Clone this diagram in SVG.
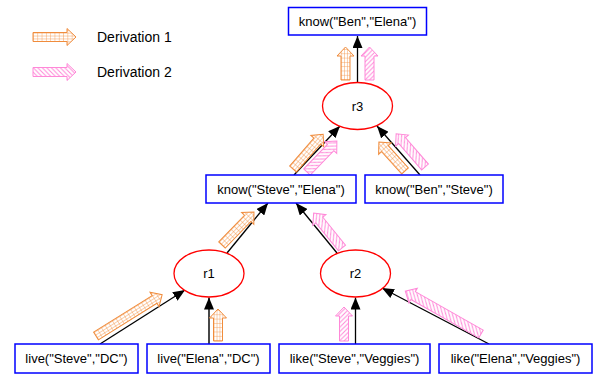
<svg xmlns="http://www.w3.org/2000/svg" width="600" height="376" viewBox="0 0 600 376">
<style>
.box{fill:#fff;stroke:#0000ff;stroke-width:1.5}
.rule{fill:#fff;stroke:#ff0000;stroke-width:1.3}
.t{font-family:"Liberation Sans",Arial,sans-serif;font-size:13px;fill:#000;text-anchor:middle;dominant-baseline:central}
.lg{font-family:"Liberation Sans",Arial,sans-serif;font-size:14px;fill:#000}
.edge{stroke:#000;stroke-width:1.3;fill:none;marker-end:url(#ah)}
.d1{fill:url(#grid);stroke:#f08c3c;stroke-width:1}
.d2{fill:url(#hatch);stroke:#ff88d8;stroke-width:1}
</style>
<defs>
<marker id="ah" viewBox="0 0 12 10" refX="12" refY="5" markerWidth="12" markerHeight="10" markerUnits="userSpaceOnUse" orient="auto">
<path d="M0,0 L12,5 L0,10 Z" fill="#000"/>
</marker>
<pattern id="grid" patternUnits="userSpaceOnUse" width="4.3" height="2.9" x="0" y="-4.35">
<rect width="4.3" height="2.9" fill="#fff"/>
<path d="M0,0 H4.3 M0,0 V2.9" stroke="#f08c3c" stroke-width="0.8" fill="none"/>
</pattern>
<pattern id="hatch" patternUnits="userSpaceOnUse" width="4.5" height="4.5">
<rect width="4.5" height="4.5" fill="#fff"/>
<path d="M-1,-1 L5.5,5.5 M3.5,-1 L5.5,1 M-1,3.5 L1,5.5" stroke="#ff88d8" stroke-width="1" fill="none"/>
</pattern>
</defs>
<rect width="600" height="376" fill="#fff"/>

<g id="legend">
<path class="d1" transform="translate(33,37)" d="M0,-4.5 H34 V-8.5 L43,0 L34,8.5 V4.5 H0 Z"/>
<text class="lg" x="97" y="41.7">Derivation 1</text>
<path class="d2" transform="translate(33,72)" d="M0,-4.5 H34 V-8.5 L43,0 L34,8.5 V4.5 H0 Z"/>
<text class="lg" x="97" y="76.7">Derivation 2</text>
</g>

<g id="connectors">
<line class="edge" x1="357.5" y1="82.5" x2="357.5" y2="36"/>
<line class="edge" x1="294" y1="175" x2="340" y2="126"/>
<line class="edge" x1="420" y1="175" x2="377" y2="126"/>
<line class="edge" x1="227" y1="253" x2="268" y2="203"/>
<line class="edge" x1="337" y1="253" x2="296" y2="203"/>
<line class="edge" x1="100" y1="344" x2="185" y2="290"/>
<line class="edge" x1="209" y1="344" x2="209" y2="297.5" style="stroke:#333;stroke-width:1.8"/>
<line class="edge" x1="355.5" y1="344" x2="355.5" y2="297.5"/>
<line class="edge" x1="489" y1="344" x2="382" y2="288"/>
</g>

<g id="derivation1">
<path class="d1" transform="translate(345.5,80) rotate(-90)" d="M0,-4.5 H24 V-8.5 L33,0 L24,8.5 V4.5 H0 Z"/>
<path class="d1" transform="translate(293,169) rotate(-49)" d="M0,-4.5 H37 V-8.5 L46,0 L37,8.5 V4.5 H0 Z"/>
<path class="d1" transform="translate(405,171) rotate(-132)" d="M0,-4.5 H30 V-8.5 L39,0 L30,8.5 V4.5 H0 Z"/>
<path class="d1" transform="translate(222,245) rotate(-46)" d="M0,-4.5 H37 V-8.5 L46,0 L37,8.5 V4.5 H0 Z"/>
<path class="d1" transform="translate(96,336) rotate(-32)" d="M0,-4.5 H69 V-8.5 L78,0 L69,8.5 V4.5 H0 Z"/>
<path class="d1" transform="translate(218,341) rotate(-90)" d="M0,-4.5 H23 V-8.5 L32,0 L23,8.5 V4.5 H0 Z"/>
</g>

<g id="derivation2">
<path class="d2" transform="translate(369.5,80) rotate(-90)" d="M0,-4.5 H24 V-8.5 L33,0 L24,8.5 V4.5 H0 Z"/>
<path class="d2" transform="translate(307,172) rotate(-46)" d="M0,-4.5 H34 V-8.5 L43,0 L34,8.5 V4.5 H0 Z"/>
<path class="d2" transform="translate(425,167) rotate(-131)" d="M0,-4.5 H35 V-8.5 L44,0 L35,8.5 V4.5 H0 Z"/>
<path class="d2" transform="translate(342,248) rotate(-129)" d="M0,-4.5 H36 V-8.5 L45,0 L36,8.5 V4.5 H0 Z"/>
<path class="d2" transform="translate(344,341) rotate(-90)" d="M0,-4.5 H25 V-8.5 L34,0 L25,8.5 V4.5 H0 Z"/>
<path class="d2" transform="translate(481,334) rotate(-150.5)" d="M0,-4.5 H78 V-8.5 L87,0 L78,8.5 V4.5 H0 Z"/>
</g>

<g id="know_ben_elena">
<rect class="box" x="288.5" y="7.5" width="138" height="27.5"/>
<text class="t" x="357.5" y="21.5">know("Ben","Elena")</text>
</g>
<g id="r3">
<ellipse class="rule" cx="357.5" cy="106" rx="35" ry="23.5"/>
<text class="t" x="357.5" y="106">r3</text>
</g>
<g id="know_steve_elena">
<rect class="box" x="206" y="175" width="150" height="28"/>
<text class="t" x="281" y="189">know("Steve","Elena")</text>
</g>
<g id="know_ben_steve">
<rect class="box" x="365" y="175" width="138" height="28"/>
<text class="t" x="434" y="189">know("Ben","Steve")</text>
</g>
<g id="r1">
<ellipse class="rule" cx="209" cy="273.5" rx="35" ry="23.5"/>
<text class="t" x="209" y="273.5">r1</text>
</g>
<g id="r2">
<ellipse class="rule" cx="355.5" cy="273.5" rx="35" ry="23.5"/>
<text class="t" x="355.5" y="273.5">r2</text>
</g>
<g id="live_steve_dc">
<rect class="box" x="15" y="344" width="123" height="29"/>
<text class="t" x="76.5" y="358.5">live("Steve","DC")</text>
</g>
<g id="live_elena_dc">
<rect class="box" x="147" y="344" width="123" height="29"/>
<text class="t" x="208.5" y="358.5">live("Elena","DC")</text>
</g>
<g id="like_steve_veggies">
<rect class="box" x="279" y="344" width="151" height="29"/>
<text class="t" x="354.5" y="358.5">like("Steve","Veggies")</text>
</g>
<g id="like_elena_veggies">
<rect class="box" x="439" y="344" width="153" height="29"/>
<text class="t" x="515.5" y="358.5">like("Elena","Veggies")</text>
</g>
</svg>
